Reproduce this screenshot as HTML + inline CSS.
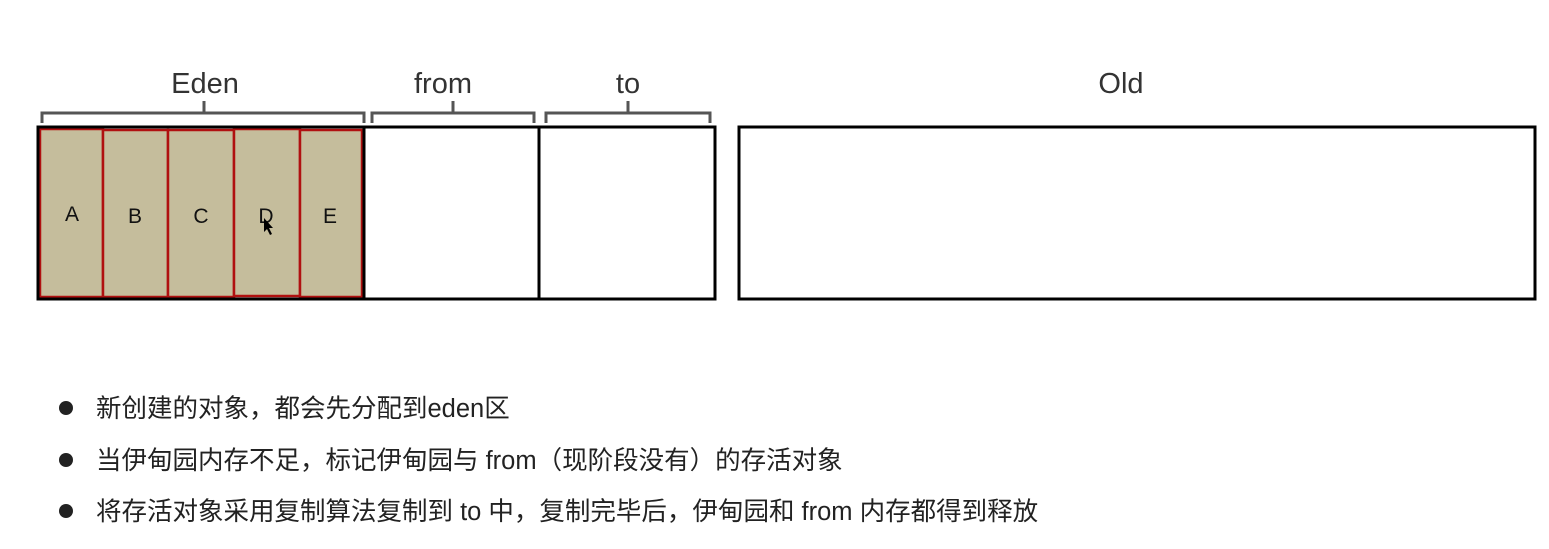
<!DOCTYPE html>
<html><head><meta charset="utf-8"><style>
body{margin:0;width:1549px;height:549px;background:#fff;overflow:hidden}
svg{position:absolute;left:0;top:0}
.t{font-family:"Liberation Sans","Noto Sans CJK SC",sans-serif}
</style></head><body>
<svg width="1549" height="549" xmlns="http://www.w3.org/2000/svg">
<g class="t" font-size="29" fill="#333" text-anchor="middle">
<text x="205" y="93">Eden</text>
<text x="443" y="93">from</text>
<text x="628" y="93">to</text>
<text x="1121" y="93">Old</text>
</g>
<g fill="none" stroke="#555" stroke-width="3">
<path d="M42 123 V113 H364 V123 M204 113 V101"/>
<path d="M372 123 V113 H534 V123 M453 113 V101"/>
<path d="M546 123 V113 H710 V123 M628 113 V101"/>
</g>
<g fill="#c5bd9c" stroke="#b01010" stroke-width="2.5">
<rect x="40" y="129" width="63" height="168"/>
<rect x="103" y="130" width="65" height="167"/>
<rect x="168" y="130" width="66" height="167"/>
<rect x="234" y="129" width="66" height="167"/>
<rect x="300" y="130" width="62" height="167"/>
</g>
<g fill="none" stroke="#000" stroke-width="3">
<rect x="38" y="127" width="677" height="172"/>
<line x1="364" y1="127" x2="364" y2="299"/>
<line x1="539" y1="127" x2="539" y2="299"/>
<rect x="739" y="127" width="796" height="172"/>
</g>
<g class="t" font-size="21" fill="#111" text-anchor="middle">
<text x="72" y="221">A</text><text x="135" y="223">B</text><text x="201" y="223">C</text><text x="266" y="223">D</text><text x="330" y="223">E</text>
</g>
<path d="M264 218 L264 232 L267 229 L270 235 L272 234 L269 228 L273 228 Z" fill="#000"/>
<g fill="#222"><circle cx="66" cy="408" r="7"/><circle cx="66" cy="460" r="7"/><circle cx="66" cy="511" r="7"/></g>
<g class="t" font-size="25.5" fill="#222">
<text x="96" y="417">新创建的对象，都会先分配到eden区</text>
<text x="96" y="469">当伊甸园内存不足，标记伊甸园与 from（现阶段没有）的存活对象</text>
<text x="96" y="520">将存活对象采用复制算法复制到 to 中，复制完毕后，伊甸园和 from 内存都得到释放</text>
</g>
</svg>
</body></html>
